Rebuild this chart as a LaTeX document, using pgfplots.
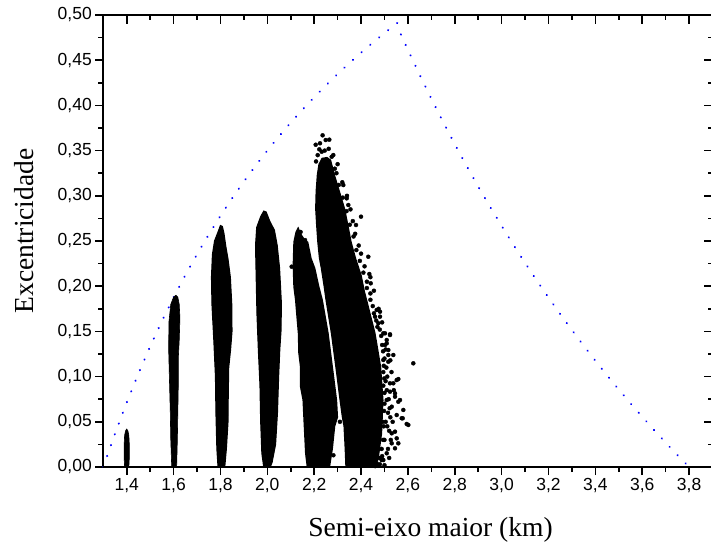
\documentclass[border=0pt]{standalone}
\usepackage{fontspec}
\setmainfont{Liberation Sans}
\newfontfamily\timesf{Liberation Serif}
\usepackage{pgfplots}
\pgfplotsset{compat=1.18}
\begin{document}
\begin{tikzpicture}
\pgfplotsset{
  common/.style={
    scale only axis, width=609.2pt, height=452pt,
    xmin=1.3, xmax=3.9, ymin=0, ymax=0.5,
    xtick={1.4,1.6,1.8,2.0,2.2,2.4,2.6,2.8,3.0,3.2,3.4,3.6,3.8},
    ytick={0,0.05,0.10,0.15,0.20,0.25,0.30,0.35,0.40,0.45,0.50},
    minor x tick num=1, minor y tick num=1,
    axis line style={line width=1.6pt},
    every tick/.style={line width=1.6pt, black},
    clip=false,
  }
}
\begin{axis}[common,
  name=main,
  tick align=outside, xtick pos=bottom, ytick pos=left,
  major tick length=8pt, minor tick length=5pt,
  /pgf/number format/assume math mode=true,
  /pgf/number format/.cd, use comma, fixed, fixed zerofill, precision=2, /pgfplots/.cd,
  xticklabel style={/pgf/number format/precision=1, font=\fontsize{17.5}{20}\selectfont},
  yticklabel style={font=\fontsize{17.5}{20}\selectfont},
  xlabel={\timesf\fontsize{27.5}{33}\selectfont Semi-eixo maior (km)},
  ylabel={\timesf\fontsize{27.5}{33}\selectfont Excentricidade},
  xlabel style={at={(axis description cs:0.537,-0.1542)}, anchor=base},
  ylabel style={at={(axis description cs:-0.1149,0.522)}, anchor=base},
]
% blue dotted limit curves
\addplot[blue, line width=2pt, line cap=round, dash pattern=on 0.3pt off 11.2pt] coordinates {
(1.30,0) (1.35,0.0370) (1.40,0.0714) (1.45,0.1034) (1.50,0.1333) (1.55,0.1613)
(1.60,0.1875) (1.65,0.2121) (1.70,0.2353) (1.75,0.2571) (1.80,0.2778) (1.85,0.2973)
(1.90,0.3158) (1.95,0.3333) (2.00,0.3500) (2.05,0.3659) (2.10,0.3810) (2.15,0.3953)
(2.20,0.4091) (2.25,0.4222) (2.30,0.4348) (2.35,0.4468) (2.40,0.4583) (2.45,0.4694)
(2.50,0.4800) (2.55,0.4902) (2.585,0.4971)};
\addplot[blue, line width=2pt, line cap=round, dash pattern=on 0.3pt off 11.2pt] coordinates {
(2.57,0.4786) (2.60,0.4615) (2.65,0.4340) (2.70,0.4074) (2.75,0.3818) (2.80,0.3571)
(2.85,0.3333) (2.90,0.3103) (2.95,0.2881) (3.00,0.2667) (3.05,0.2459) (3.10,0.2258)
(3.15,0.2063) (3.20,0.1875) (3.25,0.1692) (3.30,0.1515) (3.35,0.1343) (3.40,0.1176)
(3.45,0.1014) (3.50,0.0857) (3.55,0.0704) (3.60,0.0556) (3.65,0.0411) (3.70,0.0270)
(3.75,0.0133) (3.80,0)};
% family 1.4
\addplot[fill=black, draw=black, line width=0.6pt] coordinates {
(1.391,0) (1.389,0.01) (1.389,0.025) (1.391,0.035) (1.395,0.040) (1.400,0.042)
(1.405,0.040) (1.409,0.035) (1.411,0.025) (1.411,0.01) (1.409,0)};
% family 1.6
\addplot[fill=black, draw=black, line width=0.6pt] coordinates {
(1.592,0) (1.588,0.03) (1.586,0.06) (1.582,0.10) (1.579,0.13) (1.580,0.16) (1.588,0.18)
(1.600,0.188) (1.610,0.190) (1.618,0.188) (1.624,0.18) (1.627,0.165) (1.624,0.14)
(1.620,0.12) (1.620,0.09) (1.618,0.06) (1.616,0.03) (1.613,0)};
% family 1.8
\addplot[fill=black, draw=black, line width=1.2pt] coordinates {
(1.790,0) (1.785,0.02) (1.781,0.06) (1.779,0.10) (1.772,0.14) (1.764,0.18) (1.762,0.21)
(1.766,0.235) (1.775,0.25) (1.790,0.26) (1.800,0.267) (1.808,0.266) (1.815,0.258)
(1.822,0.245) (1.832,0.23) (1.842,0.21) (1.848,0.18) (1.849,0.15) (1.843,0.13)
(1.835,0.11) (1.833,0.08) (1.832,0.05) (1.825,0.02) (1.818,0)};
% family 2.0
\addplot[fill=black, draw=black, line width=1.2pt] coordinates {
(1.985,0) (1.977,0.015) (1.972,0.05) (1.969,0.09) (1.962,0.13) (1.956,0.17) (1.952,0.22)
(1.950,0.245) (1.955,0.265) (1.972,0.277) (1.985,0.283) (1.995,0.282) (2.010,0.272)
(2.030,0.262) (2.042,0.245) (2.052,0.22) (2.060,0.18) (2.058,0.15) (2.053,0.13)
(2.048,0.10) (2.043,0.06) (2.035,0.025) (2.020,0.005) (2.012,0)};
% family 2.2
\addplot[fill=black, draw=none] coordinates {
(2.168,0) (2.161,0.015) (2.154,0.052) (2.150,0.074) (2.139,0.089) (2.139,0.111)
(2.132,0.126) (2.130,0.148) (2.125,0.163) (2.118,0.185) (2.111,0.199) (2.108,0.223)
(2.111,0.249) (2.120,0.260) (2.132,0.266) (2.145,0.258) (2.160,0.252) (2.175,0.249)
(2.189,0.231) (2.205,0.220) (2.222,0.200) (2.237,0.185) (2.262,0.148) (2.280,0.111)
(2.298,0.074) (2.302,0.055) (2.290,0.045) (2.280,0.020) (2.268,0)};
% family 2.3 (dense)
\addplot[fill=black, draw=none] coordinates {
(2.333,0) (2.330,0.02) (2.325,0.045) (2.318,0.055) (2.308,0.074) (2.290,0.111)
(2.271,0.148) (2.248,0.185) (2.240,0.200) (2.228,0.220) (2.220,0.231) (2.213,0.249)
(2.208,0.268) (2.204,0.286) (2.206,0.305) (2.211,0.323) (2.218,0.335) (2.232,0.342)
(2.255,0.343) (2.272,0.340) (2.289,0.323) (2.310,0.305) (2.332,0.286) (2.346,0.268)
(2.360,0.249) (2.379,0.231) (2.403,0.212) (2.417,0.194) (2.431,0.180) (2.462,0.148)
(2.486,0.111) (2.496,0.074) (2.490,0.037) (2.475,0.008) (2.458,0)};
% scattered points
\addplot[only marks, mark=*, mark size=2pt, black] coordinates {
(2.236,0.3669) (2.2065,0.3565) (2.2249,0.3581) (2.2492,0.3617) (2.2646,0.3621)
(2.2219,0.3514) (2.2321,0.3488) (2.2816,0.3451) (2.2748,0.3432) (2.3243,0.3119)
(2.3388,0.2972) (2.3457,0.2898) (2.3999,0.2769) (2.3785,0.2677) (2.431,0.2326)
(2.4353,0.2135) (2.4413,0.2032) (2.4669,0.1737) (2.481,0.1718) (2.4596,0.1663)
(2.481,0.1663) (2.4737,0.1590) (2.4950,0.1479) (2.5236,0.1468) (2.5096,0.1405)
(2.5023,0.1350) (2.5164,0.1294) (2.5377,0.1239) (2.4950,0.1184) (2.5164,0.1165)
(2.5591,0.0973) (2.5377,0.0926) (2.5236,0.0833) (2.5450,0.0778) (2.5591,0.0722)
(2.5309,0.0667) (2.5804,0.0631) (2.5778,0.0539) (2.5522,0.0575) (2.5949,0.0476)
(2.5450,0.0391) (2.5522,0.0317) (2.5309,0.0262) (2.5450,0.0207) (2.5096,0.0152)
(2.4882,0.0077) (2.4669,0.0041) (2.6231,0.1147)
(2.5023,0.1479) (2.5236,0.1460) (2.5096,0.1368) (2.5164,0.1239) (2.5522,0.0962)
(2.5236,0.0926) (2.545,0.0815) (2.5663,0.0741) (2.5736,0.0539) (2.6017,0.0465)
(2.5096,0.0741) (2.5309,0.0373) (2.5591,0.0262) (2.495,0.0077)
(2.30,0.335) (2.295,0.325) (2.32,0.315) (2.34,0.300) (2.355,0.285) (2.365,0.272)
(2.375,0.258) (2.39,0.245) (2.40,0.236) (2.415,0.222) (2.425,0.205) (2.44,0.192)
(2.45,0.178) (2.465,0.162) (2.48,0.152) (2.49,0.135) (2.50,0.12) (2.495,0.105)
(2.505,0.095) (2.51,0.085) (2.50,0.07) (2.515,0.06) (2.505,0.05) (2.52,0.04)
(2.50,0.03) (2.515,0.02) (2.49,0.012) (2.48,0.003) (2.50,0.002) (2.525,0.055)
(2.49,0.16) (2.475,0.175) (2.455,0.195) (2.44,0.21) (2.495,0.09) (2.492,0.05)
(2.104,0.2216) (2.142,0.260) (2.161,0.251) (2.310,0.050) (2.282,0.013)
(2.486,0.145) (2.470,0.155) (2.455,0.170) (2.440,0.185) (2.425,0.198) (2.410,0.215)
(2.395,0.228) (2.380,0.240) (2.368,0.255) (2.352,0.268) (2.338,0.283) (2.322,0.298)
(2.305,0.312) (2.288,0.330) (2.245,0.350) (2.215,0.345) (2.262,0.352) (2.208,0.338)
(2.494,0.128) (2.497,0.112) (2.499,0.098) (2.500,0.082) (2.498,0.062) (2.497,0.045)
(2.494,0.030) (2.488,0.020) (2.478,0.010) (2.470,0.002) (2.460,0.001)
(2.508,0.110) (2.512,0.100) (2.518,0.075) (2.522,0.065) (2.512,0.045) (2.527,0.030)
(2.520,0.010) (2.535,0.050) (2.540,0.085) (2.530,0.105) (2.525,0.118) (2.505,0.130)};
\end{axis}
\begin{axis}[common,
  tick align=inside, xtick pos=top, ytick pos=right,
  major tick length=9pt, minor tick length=5pt,
  xticklabels={}, yticklabels={},
]
\end{axis}
\pgfresetboundingbox
\path (-103.3pt,-75pt) rectangle (607.7pt,467pt);
\end{tikzpicture}
\end{document}
